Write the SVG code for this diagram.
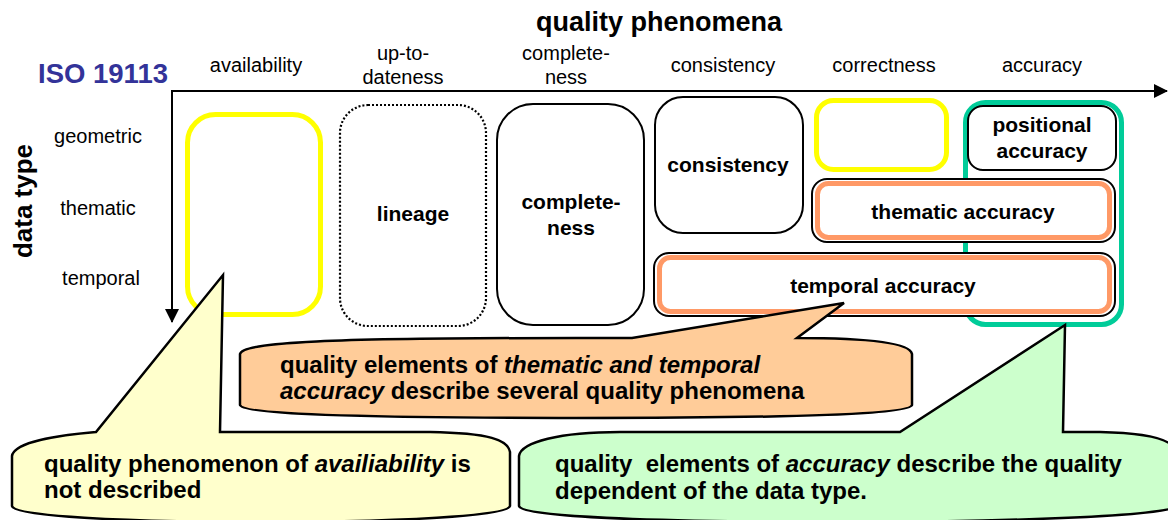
<svg xmlns="http://www.w3.org/2000/svg" width="1168" height="520" viewBox="0 0 1168 520">
<style>
text{font-family:"Liberation Sans",Arial,sans-serif;fill:#000}
.hdr{font-size:20px;text-anchor:middle}
.row{font-size:20px;text-anchor:middle}
.nt{font-size:21px;font-weight:bold;text-anchor:middle}
.ct{font-size:24px;font-weight:bold}
.box{fill:#fff;stroke:#000;stroke-width:2}
.yel{fill:#fff;stroke:#ffff00;stroke-width:5}
.org{fill:#fff;stroke:#ff9966;stroke-width:5}
.ax{stroke:#000;stroke-width:2;fill:none}
.call{stroke:#000;stroke-width:2.5;stroke-linejoin:miter}
</style>
<defs>
<marker id="ah" viewBox="0 0 14 14" refX="13" refY="7" markerWidth="14" markerHeight="14" markerUnits="userSpaceOnUse" orient="auto">
<path d="M0,0 L14,7 L0,14 Z" fill="#000"/>
</marker>
</defs>
<rect width="1168" height="520" fill="#fff"/>

<g id="titles">
<text x="659" y="31" style="font-size:27px;font-weight:bold;text-anchor:middle">quality phenomena</text>
<text x="38" y="83" style="font-size:27.5px;font-weight:bold;fill:#333399">ISO 19113</text>
<text transform="translate(32,201) rotate(-90)" style="font-size:26px;font-weight:bold;text-anchor:middle">data type</text>
<text class="hdr" x="256" y="72">availability</text>
<text class="hdr" x="403" y="60">up-to-</text>
<text class="hdr" x="403" y="84">dateness</text>
<text class="hdr" x="566" y="60">complete-</text>
<text class="hdr" x="566" y="84">ness</text>
<text class="hdr" x="723" y="72">consistency</text>
<text class="hdr" x="884" y="72">correctness</text>
<text class="hdr" x="1042" y="72">accuracy</text>
<text class="row" x="98" y="143">geometric</text>
<text class="row" x="98" y="215">thematic</text>
<text class="row" x="101" y="285">temporal</text>
</g>

<g id="connectors">
<line class="ax" x1="172" y1="91" x2="1167" y2="91" marker-end="url(#ah)"/>
<line class="ax" x1="172" y1="90" x2="172" y2="322" marker-end="url(#ah)"/>
</g>

<g id="availability-box">
<rect class="yel" x="187.5" y="114.5" width="133" height="200" rx="28"/>
</g>
<g id="lineage">
<rect x="340" y="105" width="146" height="221" rx="28" fill="#fff" stroke="#000" stroke-width="2.2" stroke-dasharray="2 2"/>
<text class="nt" x="413" y="221">lineage</text>
</g>
<g id="completeness">
<rect class="box" x="497" y="104" width="147" height="221" rx="36"/>
<text class="nt" x="571" y="209">complete-</text>
<text class="nt" x="571" y="235">ness</text>
</g>
<g id="consistency">
<rect class="box" x="655" y="97" width="148" height="136" rx="28"/>
<text class="nt" x="728" y="172">consistency</text>
</g>
<g id="correctness-box">
<rect class="yel" x="816.5" y="100.5" width="130" height="69" rx="17"/>
</g>
<g id="accuracy">
<rect x="965.5" y="102.5" width="156" height="222" rx="20" fill="#fff" stroke="#00cc99" stroke-width="5"/>
</g>
<g id="positional-accuracy">
<rect class="box" x="968" y="106" width="148" height="64" rx="15"/>
<text class="nt" x="1042" y="132">positional</text>
<text class="nt" x="1042" y="158">accuracy</text>
</g>
<g id="thematic-accuracy">
<rect class="box" x="812" y="179" width="303" height="63" rx="15"/>
<rect class="org" x="817.5" y="183.5" width="292" height="54" rx="11"/>
<text class="nt" x="963" y="219">thematic accuracy</text>
</g>
<g id="temporal-accuracy">
<rect class="box" x="654" y="253" width="461" height="63" rx="15"/>
<rect class="org" x="659.5" y="257.5" width="450" height="54" rx="11"/>
<text class="nt" x="883" y="293">temporal accuracy</text>
</g>

<g id="callout-thematic-temporal">
<path class="call" fill="#ffcc99" d="M240,354 C242,342 330,338 576,338 L632,338 L844,303 L797,338 C860,338 910,342 912,354 L912,405 C910,414 800,418 576,418 C352,418 242,414 240,405 Z"/>
<text class="ct" x="280" y="373">quality elements of <tspan font-style="italic">thematic and temporal</tspan></text>
<text class="ct" x="280" y="399"><tspan font-style="italic">accuracy</tspan> describe several quality phenomena</text>
</g>

<g id="callout-availability">
<path class="call" fill="#ffffcc" d="M12,456 C14,442 60,435 96,432 L223,275 L220,432 L430,432 C490,433 508,440 510,452 L510,506 C508,516 400,522 261,522 C120,522 14,516 12,506 Z"/>
<text class="ct" x="44" y="472">quality phenomenon of <tspan font-style="italic">availiability</tspan> is</text>
<text class="ct" x="44" y="498">not described</text>
</g>

<g id="callout-accuracy">
<path class="call" fill="#ccffcc" d="M519,456 C521,442 560,432 620,432 L900,432 L1065,325 L1063,432 L1100,432 C1150,433 1174,440 1176,452 L1176,506 C1174,516 1000,522 847,522 C640,522 521,516 519,506 Z"/>
<text class="ct" x="555" y="472" xml:space="preserve">quality  elements of <tspan font-style="italic">accuracy</tspan> describe the quality</text>
<text class="ct" x="555" y="499">dependent of the data type.</text>
</g>
</svg>
